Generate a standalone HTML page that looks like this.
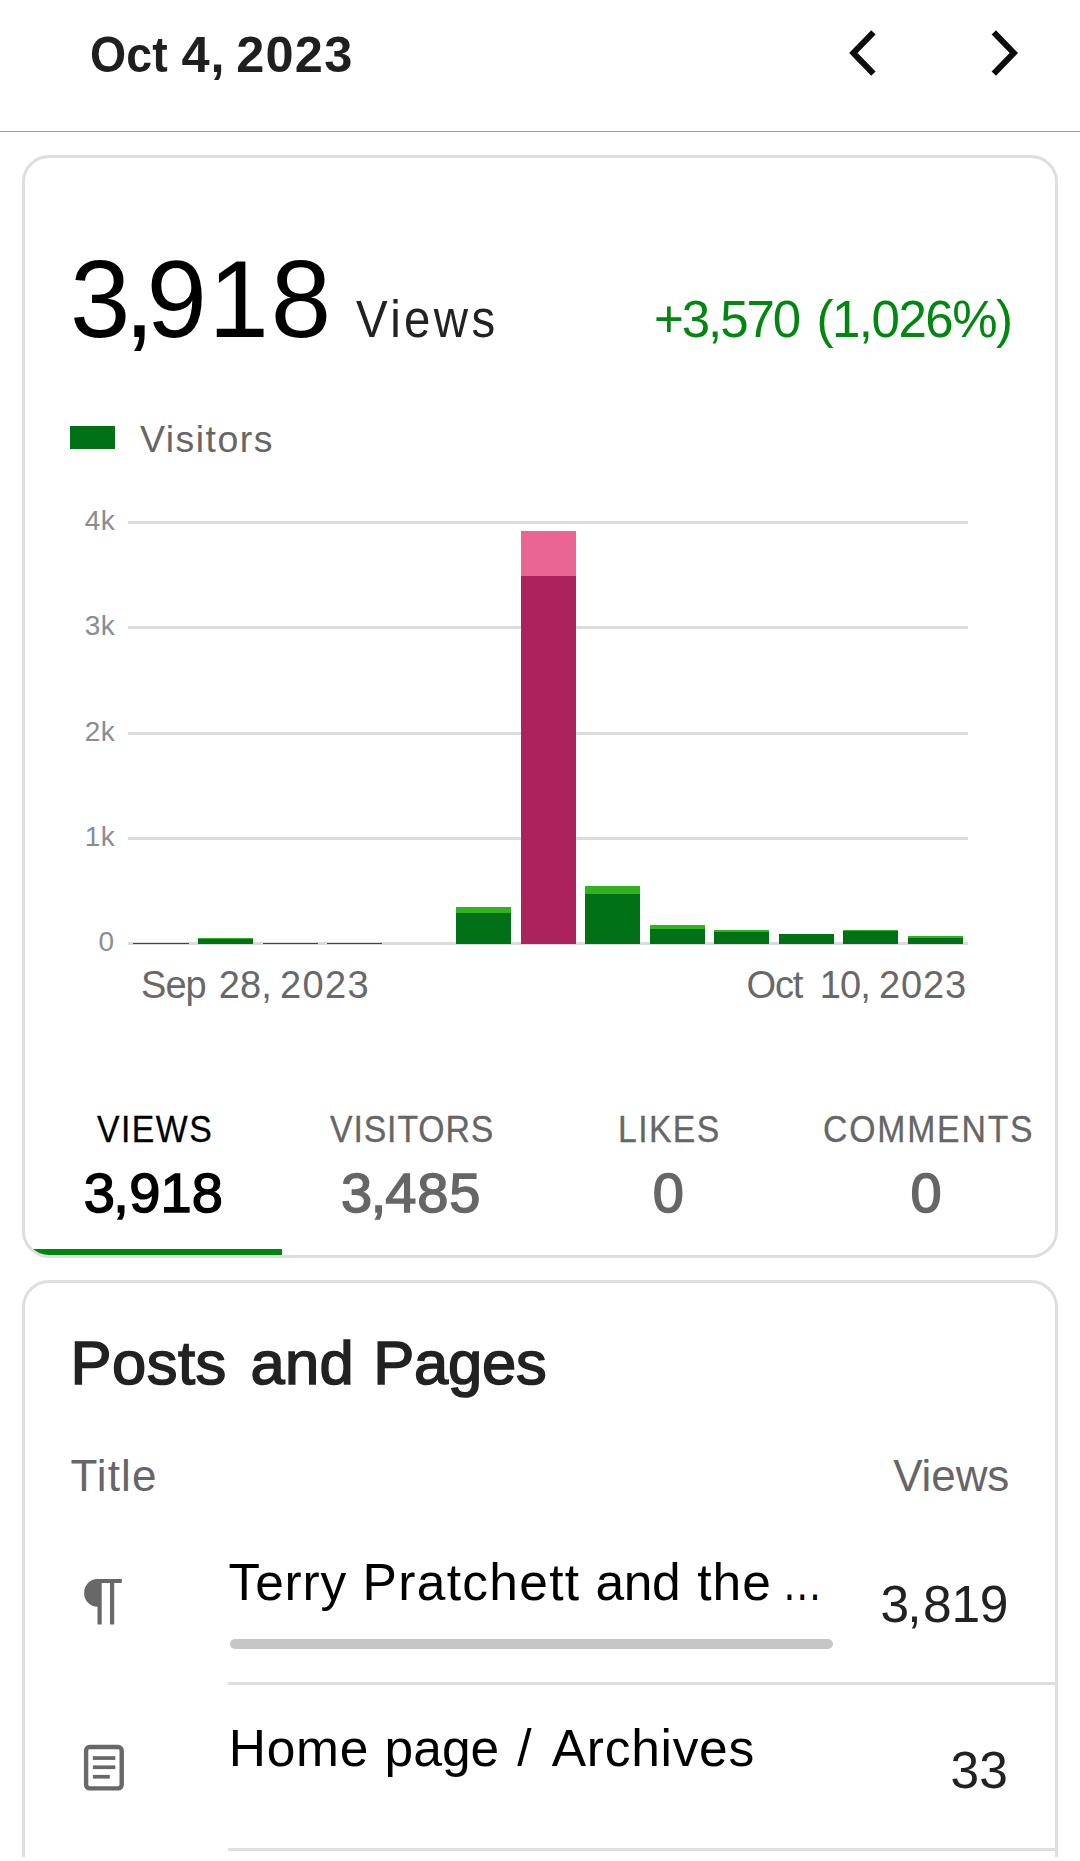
<!DOCTYPE html><html lang="en"><head><meta charset="utf-8"><title>Stats</title><style>
*{margin:0;padding:0;box-sizing:border-box}
html,body{width:1080px;height:1861px;background:#fff;overflow:hidden}
body{position:relative;font-family:"Liberation Sans",sans-serif}
.t{position:absolute;white-space:pre}
.a{position:absolute}
.card{position:absolute;left:22px;width:1036px;border:3px solid #dedede;border-radius:27px;background:#fff;overflow:hidden}
</style></head><body>
<div class="a" style="left:0;top:130.6px;width:1080px;height:1.4px;background:#9c9c9c"></div>
<svg class="a" style="left:840px;top:20px" width="50" height="66" viewBox="0 0 50 66"><path d="M33.4 12.4 L13.4 33 L33.4 53.6" fill="none" stroke="#0d0d0d" stroke-width="6.1"/></svg>
<svg class="a" style="left:980px;top:20px" width="50" height="66" viewBox="0 0 50 66"><path d="M13.8 12.4 L33.8 33 L13.8 53.6" fill="none" stroke="#0d0d0d" stroke-width="6.1"/></svg>
<div class="card" style="top:155px;height:1103px"><div class="a" style="left:0;top:1091px;width:257px;height:6px;background:#008710"></div></div>
<div class="card" style="top:1280px;height:581px;border-bottom:0;border-radius:27px 27px 0 0"></div>
<div class="a" style="left:0;top:1857px;width:1080px;height:4px;background:#fff"></div>
<div class="a" style="left:70px;top:426px;width:45px;height:22.7px;background:#007117"></div>
<div class="a" style="left:128.4px;top:520.8px;width:839.4px;height:3px;background:#dcdcde"></div>
<div class="a" style="left:128.4px;top:626.2px;width:839.4px;height:3px;background:#dcdcde"></div>
<div class="a" style="left:128.4px;top:731.6px;width:839.4px;height:3px;background:#dcdcde"></div>
<div class="a" style="left:128.4px;top:837.0px;width:839.4px;height:3px;background:#dcdcde"></div>
<div class="a" style="left:128.4px;top:942.4px;width:839.4px;height:3px;background:#dcdcde"></div>
<div class="a" style="left:133.4px;top:942.7px;width:55.3px;height:1.1px;background:#2fb41f"></div>
<div class="a" style="left:133.4px;top:943.0px;width:55.3px;height:0.8px;background:#007117"></div>
<div class="a" style="left:197.9px;top:938.2px;width:55.3px;height:5.6px;background:#2fb41f"></div>
<div class="a" style="left:197.9px;top:939.1px;width:55.3px;height:4.7px;background:#007117"></div>
<div class="a" style="left:262.5px;top:942.7px;width:55.3px;height:1.1px;background:#2fb41f"></div>
<div class="a" style="left:262.5px;top:943.0px;width:55.3px;height:0.8px;background:#007117"></div>
<div class="a" style="left:327.0px;top:942.9px;width:55.3px;height:0.9px;background:#2fb41f"></div>
<div class="a" style="left:327.0px;top:943.0px;width:55.3px;height:0.8px;background:#007117"></div>
<div class="a" style="left:456.0px;top:907.1px;width:55.3px;height:36.7px;background:#2fb41f"></div>
<div class="a" style="left:456.0px;top:913.2px;width:55.3px;height:30.6px;background:#007117"></div>
<div class="a" style="left:520.6px;top:530.5px;width:55.3px;height:413.3px;background:#eb6594"></div>
<div class="a" style="left:520.6px;top:576.1px;width:55.3px;height:367.7px;background:#ab235a"></div>
<div class="a" style="left:585.1px;top:886.3px;width:55.3px;height:57.5px;background:#2fb41f"></div>
<div class="a" style="left:585.1px;top:894.3px;width:55.3px;height:49.5px;background:#007117"></div>
<div class="a" style="left:649.6px;top:925.4px;width:55.3px;height:18.4px;background:#2fb41f"></div>
<div class="a" style="left:649.6px;top:928.9px;width:55.3px;height:14.9px;background:#007117"></div>
<div class="a" style="left:714.2px;top:930.4px;width:55.3px;height:13.4px;background:#2fb41f"></div>
<div class="a" style="left:714.2px;top:932.2px;width:55.3px;height:11.6px;background:#007117"></div>
<div class="a" style="left:778.7px;top:933.8px;width:55.3px;height:10.0px;background:#2fb41f"></div>
<div class="a" style="left:778.7px;top:934.3px;width:55.3px;height:9.5px;background:#007117"></div>
<div class="a" style="left:843.2px;top:929.9px;width:55.3px;height:13.9px;background:#2fb41f"></div>
<div class="a" style="left:843.2px;top:930.9px;width:55.3px;height:12.9px;background:#007117"></div>
<div class="a" style="left:907.8px;top:936.1px;width:55.3px;height:7.7px;background:#2fb41f"></div>
<div class="a" style="left:907.8px;top:937.7px;width:55.3px;height:6.1px;background:#007117"></div>
<div class="a" style="left:228px;top:1682px;width:827px;height:3px;background:#dedede"></div>
<div class="a" style="left:228px;top:1848px;width:827px;height:3px;background:#dedede"></div>
<div class="a" style="left:230.3px;top:1638.7px;width:602.8px;height:10.3px;border-radius:5.2px;background:#c6c6c9"></div>
<svg class="a" style="left:80px;top:1575px" width="48" height="54" viewBox="0 0 48 54"><path d="M17.5 4 H41.8 V8.1 H34.2 V49.6 H30 V8.1 H21.7 V49.6 H17.5 V31.8 A13.4 13.9 0 0 1 17.5 4 Z" fill="#686868"/></svg>
<svg class="a" style="left:80px;top:1740px" width="48" height="56" viewBox="0 0 48 56"><rect x="6.1" y="7" width="35.6" height="41.4" rx="3.6" ry="3.6" fill="none" stroke="#686868" stroke-width="4.4"/><rect x="12.9" y="16.2" width="22.4" height="3.7" fill="#686868"/><rect x="12.9" y="25.4" width="22.4" height="3.7" fill="#686868"/><rect x="12.9" y="34.9" width="16.9" height="3.7" fill="#686868"/></svg>
<div class="t" style="left:0;top:29.8px;font-size:50.5px;line-height:50.5px;color:#1f1f1f;font-weight:700"><span class="t" style="left:90.1px;letter-spacing:0.11px;transform:scaleX(0.92);transform-origin:0 0">Oct</span> <span class="t" style="left:181.4px;letter-spacing:0.9px">4,</span> <span class="t" style="left:236.3px;letter-spacing:1.2px">2023</span></div>
<div class="t" style="left:0;top:245.7px;font-size:108.5px;line-height:108.5px;color:#000000"><span class="t" style="left:70.0px;letter-spacing:-6.0px">3,</span><span class="t" style="left:146.4px;letter-spacing:1.8px">918</span></div>
<div class="t" style="left:355.9px;top:293.7px;font-size:51.0px;line-height:51.0px;color:#222222;letter-spacing:3.63px;transform:scaleX(0.93);transform-origin:0 0">Views</div>
<div class="t" style="left:0;top:293.7px;font-size:51.0px;line-height:51.0px;color:#008710"><span class="t" style="left:654.1px;letter-spacing:-2.08px">+3,570</span> <span class="t" style="left:816.4px;letter-spacing:-1.47px">(1,026%)</span></div>
<div class="t" style="left:140.0px;top:420.8px;font-size:37.5px;line-height:37.5px;color:#666666;letter-spacing:1.46px">Visitors</div>
<div class="t" style="left:0;top:966.1px;font-size:38.0px;line-height:38.0px;color:#686868"><span class="t" style="left:141.1px;letter-spacing:-1.05px">Sep</span> <span class="t" style="left:218.8px;letter-spacing:0.05px">28,</span> <span class="t" style="left:280.1px;letter-spacing:1.33px">2023</span></div>
<div class="t" style="left:0;top:966.1px;font-size:38.0px;line-height:38.0px;color:#686868"><span class="t" style="left:746.6px;letter-spacing:-1.2px">Oct</span> <span class="t" style="left:819.8px;letter-spacing:-0.9px">10,</span> <span class="t" style="left:879.0px;letter-spacing:0.83px">2023</span></div>
<div class="t" style="left:96.7px;top:1110.9px;font-size:37.5px;line-height:37.5px;color:#000000;-webkit-text-stroke:0.3px #000000;letter-spacing:1.64px;transform:scaleX(0.9);transform-origin:0 0">VIEWS</div>
<div class="t" style="left:329.5px;top:1110.9px;font-size:37.5px;line-height:37.5px;color:#666666;-webkit-text-stroke:0.3px #666666;letter-spacing:1.0px;transform:scaleX(0.9);transform-origin:0 0">VISITORS</div>
<div class="t" style="left:617.9px;top:1110.9px;font-size:37.5px;line-height:37.5px;color:#666666;-webkit-text-stroke:0.3px #666666;letter-spacing:1.53px;transform:scaleX(0.9);transform-origin:0 0">LIKES</div>
<div class="t" style="left:822.6px;top:1110.9px;font-size:37.5px;line-height:37.5px;color:#666666;-webkit-text-stroke:0.3px #666666;letter-spacing:2.02px;transform:scaleX(0.9);transform-origin:0 0">COMMENTS</div>
<div class="t" style="left:0;top:1164.6px;font-size:56.0px;line-height:56.0px;color:#000000;-webkit-text-stroke:1.5px #000000"><span class="t" style="left:83.8px;letter-spacing:-1.7px">3,</span><span class="t" style="left:129.2px;letter-spacing:0.15px">918</span></div>
<div class="t" style="left:0;top:1164.6px;font-size:56.0px;line-height:56.0px;color:#666666;-webkit-text-stroke:1.5px #666666"><span class="t" style="left:341.0px;letter-spacing:-1.3px">3,</span><span class="t" style="left:385.2px;letter-spacing:0.85px">485</span></div>
<div class="t" style="left:652.8px;top:1164.6px;font-size:56.0px;line-height:56.0px;color:#666666;-webkit-text-stroke:1.5px #666666;letter-spacing:0px">0</div>
<div class="t" style="left:910.5px;top:1164.6px;font-size:56.0px;line-height:56.0px;color:#666666;-webkit-text-stroke:1.5px #666666;letter-spacing:0px">0</div>
<div class="t" style="left:0;top:1332.4px;font-size:61.5px;line-height:61.5px;color:#222222;-webkit-text-stroke:1.6px #222222"><span class="t" style="left:70.5px;letter-spacing:0.48px">Posts</span> <span class="t" style="left:250.4px;letter-spacing:0.3px">and</span> <span class="t" style="left:373.2px;letter-spacing:-0.22px">Pages</span></div>
<div class="t" style="left:70.4px;top:1453.7px;font-size:44.0px;line-height:44.0px;color:#666666;letter-spacing:1.15px">Title</div>
<div class="t" style="left:893.2px;top:1453.7px;font-size:44.0px;line-height:44.0px;color:#666666;letter-spacing:-0.12px">Views</div>
<div class="t" style="left:0;top:1557.0px;font-size:51.5px;line-height:51.5px;color:#000000"><span class="t" style="left:228.6px;letter-spacing:0.8px">Terry</span> <span class="t" style="left:362.6px;letter-spacing:1.3px">Pratchett</span> <span class="t" style="left:595.4px;letter-spacing:-0.35px">and</span> <span class="t" style="left:697.2px;letter-spacing:1.0px">the</span> <span class="t" style="left:781.7px;letter-spacing:0px;transform:scaleX(0.784);transform-origin:0 0">…</span></div>
<div class="t" style="left:0;top:1578.7px;font-size:51.5px;line-height:51.5px;color:#222222"><span class="t" style="left:880.5px;letter-spacing:-2.0px">3,</span><span class="t" style="left:923.0px;letter-spacing:-0.25px">819</span></div>
<div class="t" style="left:0;top:1722.9px;font-size:51.5px;line-height:51.5px;color:#000000"><span class="t" style="left:228.7px;letter-spacing:0.8px">Home</span> <span class="t" style="left:384.6px;letter-spacing:0.03px">page</span> <span class="t" style="left:517.2px;letter-spacing:0px">/</span> <span class="t" style="left:551.8px;letter-spacing:0.7px">Archives</span></div>
<div class="t" style="left:950.5px;top:1744.7px;font-size:51.5px;line-height:51.5px;color:#222222;letter-spacing:0.0px">33</div>
<div class="t" style="left:84.7px;top:506.7px;font-size:28.0px;line-height:28.0px;color:#8a8d91;letter-spacing:0.6px">4k</div>
<div class="t" style="left:84.7px;top:612.1px;font-size:28.0px;line-height:28.0px;color:#8a8d91;letter-spacing:0.6px">3k</div>
<div class="t" style="left:84.7px;top:717.5px;font-size:28.0px;line-height:28.0px;color:#8a8d91;letter-spacing:0.6px">2k</div>
<div class="t" style="left:84.7px;top:822.9px;font-size:28.0px;line-height:28.0px;color:#8a8d91;letter-spacing:0.6px">1k</div>
<div class="t" style="left:98.6px;top:928.3px;font-size:28.0px;line-height:28.0px;color:#8a8d91;letter-spacing:0px">0</div>
</body></html>
